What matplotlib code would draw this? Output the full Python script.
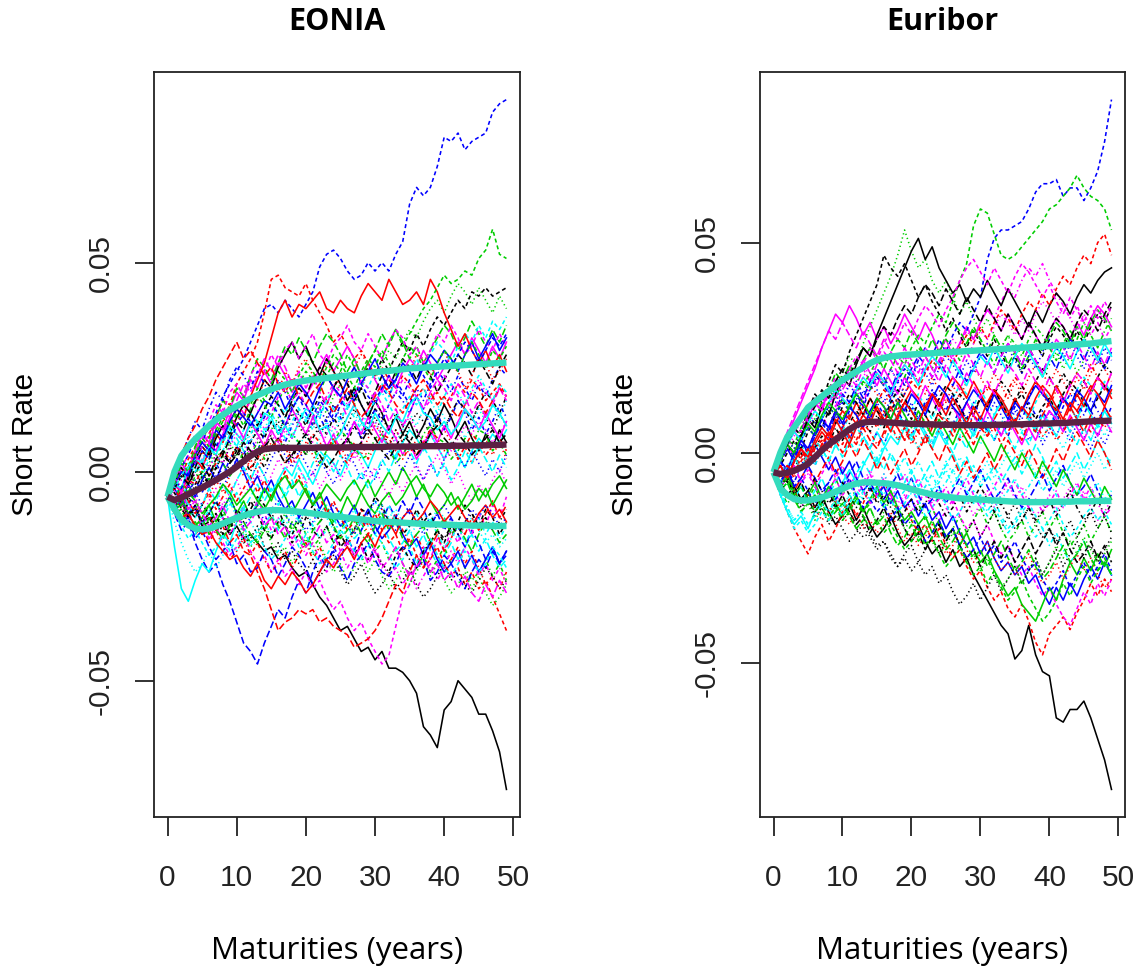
import numpy as np
import matplotlib
matplotlib.use("Agg")
import matplotlib.pyplot as plt

# ---------------------------------------------------------------- data
maturities = list(range(50))            # years 0..49
x_ticks = [0, 10, 20, 30, 40, 50]
y_ticks = [-0.05, 0.0, 0.05]
y_tick_labels = ["-0.05", "0.00", "0.05"]
panel_titles = ["EONIA", "Euribor"]
x_label = "Maturities (years)"
y_label = "Short Rate"

# simulated short-rate paths, units of 0.001
eonia_paths = [
    [-6,-8,-7,-10,-9,-12,-11,-14,-12,-15,-13,-16,-15,-17,-19,-18,-21,-20,-23,-25,-24,-27,-30,-32,-35,-38,-37,-40,-43,-42,-45,-43,-47,-47,-48,-50,-53,-61,-63,-66,-57,-55,-50,-52,-54,-58,-58,-62,-67,-76],
    [-6,-4,-1,3,6,10,9,13,17,16,21,24,27,31,38,46,47,44,43,42,45,41,38,35,31,33,30,27,29,26,23,25,22,20,23,21,18,20,17,19,16,18,21,19,22,20,17,19,21,18],
    [-6,-3,-6,-2,1,-2,2,5,3,7,4,8,11,9,6,10,13,11,15,12,9,13,16,14,18,21,19,16,20,24,22,26,29,27,31,34,32,36,39,41,38,42,45,43,40,44,41,38,42,39],
    [-6,-4,-8,-5,-2,-5,-1,2,-1,3,6,4,8,5,9,12,10,7,11,14,12,16,13,10,14,17,15,19,16,13,17,20,18,22,19,16,20,17,21,24,22,19,23,20,17,21,18,22,25,23],
    [-6,-10,-7,-11,-9,-13,-10,-7,-11,-8,-5,-9,-6,-3,-7,-4,-8,-5,-2,-6,-3,-7,-10,-8,-12,-9,-13,-16,-14,-11,-15,-12,-16,-19,-17,-14,-18,-15,-19,-22,-20,-17,-21,-18,-15,-19,-16,-20,-23,-21],
    [-6,-2,2,0,5,9,7,12,10,15,19,17,22,20,24,21,26,23,19,22,18,21,25,28,24,27,30,27,23,26,22,19,23,20,24,27,25,29,26,22,25,28,31,28,32,29,26,30,27,31],
    [-6,-9,-5,-8,-4,-1,-3,1,4,2,6,3,7,10,8,12,9,13,16,14,11,15,18,16,20,23,21,18,22,25,23,27,24,28,31,29,33,30,34,37,35,38,41,39,43,42,44,42,43,44],
    [-6,-8,-5,-9,-6,-3,-6,-2,-5,-1,2,-1,3,0,4,7,5,2,6,3,7,4,1,5,8,6,3,7,4,8,11,9,6,10,7,4,8,5,9,12,10,7,3,6,2,5,8,4,7,3],
    [-6,-9,-13,-10,-14,-11,-15,-12,-9,-13,-10,-14,-17,-15,-12,-16,-13,-10,-14,-11,-15,-18,-16,-13,-17,-14,-11,-15,-12,-16,-19,-17,-21,-18,-22,-25,-23,-20,-24,-21,-18,-22,-19,-23,-26,-24,-21,-25,-22,-26],
    [-6,-10,-14,-12,-17,-21,-24,-22,-27,-31,-36,-41,-43,-46,-41,-37,-33,-35,-30,-26,-29,-24,-20,-23,-18,-21,-16,-19,-14,-11,-15,-12,-8,-11,-7,-10,-6,-9,-13,-10,-14,-11,-15,-18,-14,-17,-21,-18,-22,-19],
    [-6,-18,-28,-31,-26,-22,-24,-19,-15,-17,-12,-9,-11,-7,-4,-6,-2,1,-1,3,0,-3,1,4,2,-1,3,6,4,1,5,8,6,3,7,10,8,5,9,6,3,7,4,1,5,8,6,9,7,10],
    [-6,-9,-7,-11,-14,-12,-16,-13,-17,-20,-18,-15,-19,-22,-20,-24,-21,-25,-23,-27,-24,-28,-26,-30,-33,-31,-35,-38,-36,-40,-43,-46,-44,-37,-30,-27,-22,-18,-21,-16,-19,-14,-17,-12,-15,-10,-13,-8,-11,-6],
    [-6,-3,-7,-4,0,-3,1,4,2,6,3,7,10,8,5,9,12,10,14,11,8,12,9,13,16,14,11,15,12,9,13,10,6,10,7,11,14,12,9,13,10,14,17,15,12,16,13,10,14,11],
    [-6,-10,-8,-12,-15,-13,-17,-14,-18,-21,-19,-16,-20,-17,-21,-24,-22,-19,-23,-20,-17,-21,-18,-22,-19,-15,-18,-14,-11,-15,-12,-9,-13,-10,-14,-17,-15,-19,-16,-20,-23,-21,-18,-22,-19,-23,-27,-25,-28,-24],
    [-6,-2,3,1,6,10,8,13,17,15,20,18,23,27,25,22,26,30,28,32,29,26,30,33,31,28,24,27,23,26,29,33,30,34,31,27,30,26,29,32,35,33,29,32,36,33,30,34,31,35],
    [-6,-4,-7,-3,-6,-2,1,-2,2,-1,3,0,-4,-1,-5,-2,-6,-9,-7,-11,-8,-5,-9,-6,-10,-13,-11,-8,-12,-9,-13,-16,-14,-11,-15,-18,-16,-20,-17,-21,-24,-22,-19,-23,-20,-24,-21,-18,-22,-19],
    [-6,-3,-7,-2,2,-1,3,7,5,9,6,10,14,12,9,13,16,14,18,15,12,16,13,17,20,18,15,19,22,20,24,21,18,22,25,23,27,24,28,31,29,26,30,33,31,35,32,36,34,37],
    [-6,-9,-12,-9,-6,-10,-7,-4,-8,-5,-2,-6,-3,0,-4,-1,3,0,4,1,-3,0,-4,-1,2,-2,1,5,2,-2,1,-3,-6,-2,-5,-1,2,-2,1,4,1,-3,0,-4,-7,-3,-6,-2,1,-3],
    [-6,-8,-4,-7,-3,0,-3,1,-2,2,5,3,0,4,1,5,8,6,3,7,4,8,11,9,13,10,7,11,8,12,15,13,10,14,11,7,10,6,9,13,10,14,17,15,12,16,19,17,14,18],
    [-6,-9,-7,-11,-8,-12,-10,-14,-13,-17,-15,-19,-20,-24,-28,-33,-38,-36,-35,-33,-34,-33,-36,-35,-37,-38,-39,-42,-41,-40,-38,-35,-31,-27,-29,-24,-20,-23,-18,-15,-19,-16,-12,-15,-11,-14,-10,-7,-11,-8],
    [-6,-9,-6,-10,-13,-11,-8,-12,-9,-6,-10,-7,-11,-8,-4,-7,-3,-6,-10,-7,-4,-8,-5,-9,-12,-10,-6,-9,-5,-2,-6,-3,0,-3,1,-2,-6,-3,-7,-10,-8,-5,-9,-6,-3,-7,-4,-8,-5,-2],
    [-6,-3,1,4,8,7,11,14,18,21,24,27,31,35,39,40,38,41,39,37,40,43,49,52,53,51,48,46,47,50,48,50,48,52,55,64,68,66,68,73,80,79,81,77,79,80,81,86,88,89],
    [-6,-2,-5,-1,3,0,4,1,5,8,6,10,7,11,14,12,9,13,10,6,9,5,8,12,9,13,16,14,11,15,12,8,11,7,10,14,11,15,18,16,13,9,12,8,11,15,12,16,13,17],
    [-6,-10,-8,-12,-9,-13,-16,-14,-11,-15,-12,-8,-11,-7,-10,-14,-11,-15,-18,-16,-20,-17,-21,-24,-22,-19,-23,-20,-17,-21,-18,-22,-25,-23,-27,-24,-28,-25,-22,-26,-23,-19,-22,-18,-21,-25,-22,-26,-23,-27],
    [-6,-3,0,-3,1,5,3,7,4,8,12,10,14,11,15,18,16,13,17,20,18,22,25,23,20,24,21,17,20,16,19,23,20,24,27,25,22,26,23,19,22,25,28,26,23,27,24,21,25,28],
    [-6,-3,-5,-1,3,1,5,9,7,12,15,13,18,22,26,32,38,41,37,40,39,41,43,39,38,41,39,38,42,45,43,41,46,43,40,41,43,40,46,43,38,34,30,33,29,26,29,25,28,24],
    [-6,-2,1,-1,4,7,5,9,12,10,14,11,15,18,16,13,17,20,17,21,24,22,19,23,26,24,28,25,22,26,29,27,31,34,30,33,36,39,41,44,47,45,46,48,47,51,53,58,52,51],
    [-6,-3,-6,-9,-5,-8,-4,-1,-4,0,3,1,-2,2,-1,3,6,4,1,5,2,-1,3,0,-3,1,4,2,-2,1,-2,2,5,3,0,4,1,-2,2,-1,3,6,4,1,5,2,-1,3,0,4],
    [-6,-10,-13,-11,-15,-12,-9,-13,-10,-7,-11,-8,-12,-15,-13,-10,-14,-11,-8,-12,-9,-13,-16,-14,-11,-15,-12,-9,-13,-10,-7,-11,-8,-12,-15,-13,-10,-14,-11,-15,-18,-16,-13,-17,-14,-11,-15,-12,-16,-13],
    [-6,-2,2,-1,4,8,6,11,15,13,17,21,19,23,27,24,28,25,21,24,20,23,19,16,20,17,13,16,12,15,19,16,12,15,11,14,18,15,19,22,20,17,21,18,14,17,13,16,20,17],
    [-6,-3,1,-2,3,6,4,8,11,9,13,16,14,18,22,20,25,28,31,27,30,26,23,27,24,21,17,20,16,13,17,14,10,13,9,12,8,11,15,12,16,13,9,12,8,5,9,6,10,7],
    [-6,-8,-4,-7,-10,-8,-5,-9,-6,-3,-7,-4,-1,-5,-2,-6,-3,0,-4,-1,-5,-8,-6,-10,-7,-11,-14,-12,-9,-13,-10,-14,-17,-15,-19,-16,-20,-23,-21,-18,-22,-25,-23,-27,-24,-28,-26,-30,-34,-38],
    [-6,-9,-7,-11,-8,-12,-15,-13,-10,-14,-11,-15,-18,-16,-13,-17,-20,-18,-22,-19,-16,-20,-17,-21,-24,-22,-26,-23,-20,-24,-21,-25,-28,-26,-23,-27,-24,-21,-25,-22,-26,-29,-27,-24,-28,-25,-29,-32,-30,-27],
    [-6,-1,4,8,12,10,15,19,17,22,25,23,20,24,21,18,22,19,15,18,14,11,15,12,16,13,9,12,8,11,15,12,16,19,17,14,18,15,11,14,10,13,17,14,10,13,9,12,16,13],
    [-6,-9,-5,-8,-11,-8,-4,-7,-3,-6,-2,1,-2,2,-1,-5,-2,-6,-3,1,-2,2,5,3,0,4,1,-3,0,-4,-1,3,0,4,7,5,2,6,3,-1,2,-2,1,5,2,6,3,0,4,1],
    [-6,-2,-5,0,4,2,7,5,9,13,11,8,12,9,6,10,7,11,15,12,9,13,10,6,9,5,8,12,9,13,10,7,11,8,4,7,3,6,10,7,11,8,12,15,13,10,14,11,8,12],
    [-6,-5,-9,-11,-8,-13,-12,-10,-15,-14,-9,-11,-7,-10,-14,-16,-12,-13,-17,-15,-11,-8,-12,-10,-13,-18,-16,-14,-9,-10,-6,-8,-12,-11,-15,-13,-9,-12,-10,-14,-17,-13,-12,-8,-10,-13,-9,-11,-15,-12],
    [-6,-4,0,1,5,4,9,13,12,15,11,16,18,17,22,20,19,24,21,25,27,23,22,26,24,20,21,25,28,26,23,24,19,22,25,24,28,27,23,26,29,25,24,20,23,27,26,22,24,27],
    [-6,-7,-3,-5,-1,0,-2,3,2,-1,1,5,4,7,3,6,8,5,9,7,4,6,2,5,7,10,8,6,3,4,8,9,6,2,4,7,5,9,11,8,7,3,5,8,6,10,9,5,7,4],
    [-6,-9,-12,-11,-16,-14,-18,-21,-19,-17,-22,-20,-24,-23,-19,-21,-25,-22,-18,-20,-23,-27,-24,-21,-19,-23,-26,-22,-20,-17,-21,-24,-25,-22,-18,-19,-23,-21,-26,-24,-20,-22,-25,-28,-24,-21,-23,-19,-22,-20],
    [-6,-3,-4,1,3,2,6,4,8,11,9,7,12,10,14,13,9,11,8,12,15,14,10,11,7,9,13,16,12,10,14,11,9,13,12,16,18,14,13,10,12,9,11,15,13,10,12,16,14,11],
    [-6,-2,3,5,9,8,12,16,14,19,21,18,23,26,24,28,25,29,31,27,30,33,28,26,30,32,35,31,29,33,30,27,31,34,32,28,30,26,29,33,31,35,32,28,30,34,31,29,33,30],
    [-6,-8,-7,-11,-9,-12,-10,-13,-15,-12,-14,-17,-16,-13,-18,-20,-17,-21,-19,-22,-24,-21,-25,-23,-20,-24,-27,-25,-22,-26,-29,-27,-24,-28,-26,-23,-27,-30,-28,-25,-22,-26,-24,-27,-29,-26,-23,-25,-28,-26],
    [-6,-4,-7,-2,-3,1,-1,2,5,3,6,4,1,3,7,5,8,6,2,4,6,9,7,5,8,4,2,5,7,3,6,9,8,5,3,6,4,7,10,8,5,7,3,6,9,7,4,6,8,5],
    [-6,-10,-9,-13,-12,-15,-11,-14,-16,-13,-10,-12,-15,-17,-14,-11,-13,-16,-12,-15,-18,-14,-12,-10,-13,-16,-14,-11,-15,-17,-13,-10,-14,-12,-16,-18,-15,-13,-17,-14,-11,-15,-13,-16,-19,-15,-12,-14,-17,-15],
    [-6,-3,0,-1,4,7,5,10,8,12,15,13,11,14,17,16,19,15,18,21,19,16,20,23,20,18,22,25,21,24,27,23,20,22,26,24,21,25,28,26,29,27,24,28,31,27,30,33,29,32],
    [-6,-9,-13,-16,-14,-17,-20,-18,-15,-19,-16,-13,-17,-15,-18,-21,-19,-16,-14,-18,-15,-19,-22,-20,-17,-14,-16,-19,-21,-18,-15,-17,-20,-23,-21,-18,-22,-19,-16,-20,-23,-25,-22,-19,-21,-24,-22,-18,-20,-23],
    [-6,-5,-2,-4,0,3,1,4,2,6,9,7,4,8,11,9,6,10,8,12,10,7,5,9,11,8,6,3,7,10,12,9,6,8,11,13,10,7,9,6,3,5,8,11,9,12,10,7,9,12],
    [-6,-8,-5,-9,-11,-8,-10,-7,-11,-13,-10,-12,-9,-6,-8,-11,-9,-13,-15,-12,-10,-14,-16,-13,-17,-15,-18,-20,-17,-21,-19,-22,-24,-20,-18,-21,-23,-19,-17,-14,-16,-13,-15,-12,-10,-13,-11,-14,-12,-9],
    [-6,-1,4,8,11,15,18,22,25,28,31,27,29,26,23,25,21,19,22,18,16,19,21,17,14,17,20,16,13,15,18,21,19,16,14,17,20,22,19,16,18,15,13,16,19,17,14,17,20,18],
    [-6,-9,-8,-5,-7,-10,-8,-6,-3,-5,-8,-6,-4,-7,-9,-6,-3,-1,-4,-2,-5,-8,-6,-3,-5,-7,-4,-2,-5,-8,-10,-7,-5,-8,-6,-3,-1,-4,-6,-3,-5,-8,-6,-9,-7,-4,-6,-3,-1,-4],
    [-6,-2,-4,0,2,5,3,6,9,7,11,14,12,10,13,16,14,11,15,18,16,13,17,15,12,16,19,17,21,18,16,20,23,21,18,22,25,23,20,24,27,25,28,31,29,26,29,32,30,33],
    [-6,-12,-17,-21,-24,-22,-19,-23,-20,-17,-19,-15,-18,-14,-12,-15,-11,-13,-10,-12,-15,-13,-9,-11,-14,-12,-16,-14,-11,-13,-10,-8,-11,-9,-12,-15,-13,-10,-12,-9,-11,-14,-16,-13,-11,-14,-17,-15,-18,-16],
    [-6,-3,1,4,2,6,9,12,10,13,16,14,17,15,12,14,18,20,17,19,16,13,15,18,21,19,16,18,22,20,17,14,16,19,22,20,18,15,17,20,23,21,18,16,19,22,19,17,20,18],
    [-6,-4,-1,-3,0,2,-1,3,5,2,4,7,5,3,6,8,5,2,4,7,9,6,4,1,3,6,8,5,7,10,8,5,3,6,9,7,4,6,9,11,8,6,9,7,4,6,8,10,7,9],
    [-6,-8,-11,-10,-13,-15,-14,-17,-19,-21,-20,-23,-25,-22,-26,-28,-25,-27,-24,-26,-29,-27,-24,-21,-23,-20,-18,-21,-17,-15,-18,-14,-12,-15,-11,-9,-12,-10,-7,-9,-12,-10,-8,-11,-13,-10,-8,-11,-9,-12],
    [-6,-3,2,0,4,8,6,10,13,11,15,18,16,20,17,21,24,22,19,23,26,24,21,25,28,26,23,20,24,27,25,29,26,23,27,30,28,25,22,26,29,27,24,28,31,28,25,29,27,30],
    [-6,-9,-7,-10,-8,-12,-10,-7,-9,-6,-10,-13,-11,-8,-12,-9,-7,-10,-13,-11,-14,-12,-9,-11,-8,-10,-13,-15,-12,-10,-7,-9,-12,-14,-11,-9,-12,-15,-13,-10,-8,-11,-14,-12,-9,-11,-8,-10,-13,-11],
    [-6,-4,-1,2,0,3,6,4,7,10,8,5,9,12,10,14,11,8,12,15,13,10,14,17,15,12,16,13,10,14,17,19,16,13,15,18,16,20,17,14,18,21,19,16,20,23,20,17,21,19],
    [-6,-8,-5,-9,-7,-10,-13,-11,-8,-12,-10,-14,-12,-9,-13,-11,-15,-13,-16,-14,-18,-16,-13,-17,-15,-19,-17,-20,-18,-22,-19,-23,-21,-18,-22,-25,-23,-20,-24,-22,-26,-24,-28,-25,-29,-31,-27,-30,-26,-29],
]

euribor_paths = [
    [-5,-7,-4,-8,-11,-9,-13,-10,-14,-17,-15,-12,-16,-13,-17,-20,-18,-15,-19,-22,-20,-17,-21,-24,-22,-26,-23,-27,-25,-29,-32,-35,-38,-41,-43,-49,-47,-41,-48,-52,-53,-63,-64,-61,-61,-59,-63,-68,-73,-80],
    [-5,-10,-14,-18,-21,-24,-20,-17,-21,-18,-14,-11,-15,-12,-8,-11,-7,-10,-14,-12,-16,-19,-17,-21,-18,-22,-25,-23,-27,-30,-28,-32,-35,-33,-37,-39,-36,-40,-45,-48,-43,-41,-39,-42,-38,-35,-31,-34,-30,-33],
    [-5,-1,3,1,5,9,7,12,16,14,19,23,21,26,30,34,38,42,47,53,48,44,46,41,38,41,37,33,36,32,29,32,28,25,28,24,21,25,22,18,21,24,20,23,19,22,26,23,20,24],
    [-5,-8,-4,-7,-3,0,-3,1,4,2,6,3,7,4,1,5,2,6,9,7,4,8,5,2,6,3,7,10,8,5,9,6,3,7,4,8,11,9,6,10,7,4,8,5,9,12,10,7,11,8],
    [-5,-9,-7,-11,-8,-12,-9,-6,-10,-7,-4,-8,-5,-2,-5,-1,-4,0,-3,-7,-4,-8,-5,-2,-6,-3,0,-4,-1,-5,-8,-6,-3,-7,-4,-1,-5,-2,2,-1,-5,-2,-6,-3,0,-4,-1,3,0,-3],
    [-5,-1,4,8,12,16,20,25,29,33,31,35,32,28,31,27,30,26,29,33,30,27,31,28,24,27,23,26,30,27,31,34,32,29,33,30,27,31,28,25,29,32,30,27,31,28,32,35,33,30],
    [-5,-1,3,7,5,10,14,12,17,21,19,24,28,32,36,40,47,44,42,45,41,37,40,36,33,29,32,28,25,29,26,23,27,24,20,23,19,22,26,23,27,30,28,25,29,26,30,33,31,35],
    [-5,-2,-5,-1,3,1,5,2,6,10,8,12,9,13,16,14,11,15,12,16,19,17,14,18,15,12,16,13,17,20,18,15,19,16,13,17,14,18,21,19,16,20,17,14,18,15,19,22,20,17],
    [-5,-9,-12,-10,-14,-11,-8,-12,-9,-6,-10,-7,-11,-14,-12,-9,-13,-10,-14,-17,-15,-12,-16,-13,-17,-20,-18,-15,-19,-16,-13,-17,-14,-18,-21,-19,-16,-20,-17,-14,-18,-15,-19,-22,-20,-17,-21,-18,-15,-19],
    [-5,-2,1,-2,3,0,4,8,6,10,14,12,16,13,17,20,18,15,19,16,20,23,21,18,22,19,16,20,17,21,24,22,19,23,26,24,21,25,22,19,23,20,24,27,25,22,26,23,20,24],
    [-5,-10,-14,-17,-15,-18,-14,-11,-8,-11,-7,-4,-7,-3,0,-3,1,4,2,6,3,7,4,1,5,2,6,9,7,4,8,5,9,12,10,7,11,8,5,9,6,10,13,11,8,12,9,6,10,7],
    [-5,-2,-6,-3,-7,-4,-8,-5,-2,-6,-3,-7,-10,-8,-5,-9,-6,-10,-13,-11,-8,-12,-9,-13,-16,-14,-11,-15,-18,-16,-20,-17,-21,-24,-22,-26,-29,-27,-31,-34,-32,-36,-39,-41,-37,-33,-36,-31,-34,-30],
    [-5,-8,-6,-9,-12,-10,-13,-11,-14,-12,-16,-14,-18,-20,-19,-22,-21,-24,-27,-25,-28,-26,-23,-20,-24,-21,-18,-22,-19,-16,-20,-17,-14,-18,-15,-12,-16,-13,-17,-20,-18,-21,-19,-16,-20,-17,-14,-18,-15,-19],
    [-5,-7,-3,-6,-2,1,-2,2,5,3,7,4,8,11,9,6,10,7,3,6,2,5,9,6,10,13,11,8,12,9,13,16,14,11,15,18,16,13,17,14,11,15,12,16,19,17,21,18,15,19],
    [-5,-1,3,6,4,9,13,11,15,19,17,21,18,22,25,23,20,24,27,25,29,26,23,27,24,28,31,29,26,30,27,24,28,25,21,24,20,23,27,24,28,31,29,26,30,27,31,34,32,29],
    [-5,-3,-6,-2,1,-2,2,-1,-4,-1,-5,-2,-6,-9,-7,-10,-8,-12,-9,-13,-11,-15,-12,-16,-14,-18,-15,-19,-22,-20,-24,-21,-25,-28,-26,-29,-27,-31,-29,-33,-36,-32,-35,-31,-34,-30,-27,-30,-26,-29],
    [-5,-2,-6,-2,2,-1,3,6,4,8,5,9,12,10,7,11,8,12,15,13,10,14,11,8,12,9,13,16,14,11,15,12,9,13,10,7,11,8,12,15,13,10,14,11,15,18,16,13,17,14],
    [-5,-8,-11,-9,-13,-10,-7,-11,-8,-12,-9,-6,-10,-7,-4,-8,-5,-9,-12,-10,-14,-11,-8,-12,-9,-13,-16,-14,-11,-15,-12,-9,-13,-10,-7,-11,-8,-12,-15,-13,-10,-14,-11,-8,-12,-9,-13,-16,-14,-11],
    [-5,-3,-7,-4,0,-3,1,4,2,6,3,7,10,8,5,9,6,10,13,11,8,12,9,6,10,7,11,14,12,9,13,10,14,17,15,12,16,13,17,20,18,15,19,16,13,17,14,18,21,19],
    [-5,-8,-5,-9,-6,-3,-7,-4,-1,-5,-2,2,-1,3,0,-4,-1,-5,-2,1,-3,0,4,1,-2,2,-1,-5,-2,-6,-3,0,-4,-1,3,0,-3,1,-2,-6,-3,1,-2,2,5,2,-1,3,0,-4],
    [-5,-8,-5,-9,-12,-10,-7,-11,-8,-12,-15,-13,-10,-14,-11,-8,-12,-9,-13,-16,-14,-17,-15,-19,-16,-20,-18,-22,-19,-23,-26,-24,-28,-31,-34,-32,-36,-38,-40,-36,-32,-35,-30,-26,-29,-25,-28,-24,-27,-23],
    [-5,-2,1,-2,3,6,4,8,5,9,12,10,14,11,15,18,16,13,17,20,18,22,25,23,27,24,28,31,29,33,37,46,51,53,53,54,55,58,62,64,64,65,61,63,63,60,63,67,74,84],
    [-5,-9,-13,-16,-14,-17,-15,-12,-15,-11,-14,-10,-7,-10,-6,-9,-5,-8,-4,-7,-10,-8,-5,-9,-6,-2,-5,-1,-4,-7,-5,-2,-6,-3,0,-3,1,-2,-5,-3,-7,-4,-8,-5,-2,-6,-3,0,-4,-1],
    [-5,-2,2,-1,3,7,5,9,6,10,13,11,15,12,16,19,17,14,18,21,19,16,20,23,21,25,22,26,29,27,31,34,32,36,39,37,41,44,42,45,41,38,35,32,35,31,28,31,27,30],
    [-5,-8,-6,-10,-7,-11,-14,-12,-9,-13,-10,-14,-17,-15,-19,-16,-13,-17,-14,-18,-21,-19,-23,-20,-17,-21,-18,-22,-25,-23,-27,-24,-21,-25,-22,-26,-23,-20,-24,-21,-18,-22,-19,-23,-26,-24,-21,-25,-22,-26],
    [-5,-3,-6,-2,1,-2,2,5,3,7,10,8,12,9,13,10,7,11,8,12,15,13,10,14,11,15,18,16,13,17,14,11,15,12,9,13,10,14,17,15,12,16,13,10,14,11,15,18,16,13],
    [-5,-2,2,-1,3,6,4,8,11,9,13,10,14,17,15,19,16,20,23,21,25,28,26,30,33,31,36,41,45,54,58,57,52,47,46,47,49,51,53,55,58,59,61,63,66,63,61,60,58,53],
    [-5,-1,3,1,5,9,7,11,14,12,16,19,17,14,18,15,12,16,13,9,12,8,11,15,12,9,13,10,6,9,5,8,12,9,6,10,7,3,6,2,5,9,6,3,7,4,1,5,2,6],
    [-5,-8,-5,-1,-4,0,-3,1,-2,2,5,3,0,4,1,-2,2,-1,-4,-1,-5,-2,-6,-9,-7,-4,-8,-5,-9,-12,-10,-14,-11,-15,-18,-16,-13,-17,-20,-18,-22,-19,-23,-26,-24,-21,-25,-28,-26,-29],
    [-5,-1,2,6,4,8,12,10,14,11,15,18,16,20,17,21,24,22,19,23,20,17,21,18,22,25,23,20,24,21,18,22,19,23,26,24,21,25,22,19,23,27,25,22,26,23,20,24,21,25],
    [-5,-2,2,0,4,8,6,11,9,14,18,16,21,25,23,28,32,36,40,44,48,51,46,49,44,41,38,40,36,39,37,41,38,35,39,36,33,30,34,31,35,38,36,33,37,40,38,41,43,44],
    [-5,-8,-4,-1,-4,0,3,1,5,2,6,9,7,11,8,12,15,13,10,14,17,15,19,22,20,24,21,25,28,26,30,27,31,34,32,29,33,36,34,38,35,39,42,40,44,47,45,50,52,47],
    [-5,-9,-7,-11,-14,-12,-16,-13,-10,-14,-11,-15,-18,-16,-13,-17,-14,-11,-15,-18,-16,-20,-17,-21,-24,-22,-19,-23,-26,-24,-28,-25,-29,-32,-30,-27,-31,-28,-25,-29,-26,-22,-25,-21,-24,-20,-23,-26,-24,-21],
    [-5,-2,-5,-1,2,0,4,7,5,9,6,10,13,11,8,12,9,13,10,7,11,8,12,15,13,10,14,11,8,12,9,5,8,4,7,11,8,12,9,6,10,7,11,14,12,9,13,10,7,11],
    [-5,-7,-4,-1,-4,0,3,1,-2,2,-1,3,6,4,1,5,2,6,9,7,4,8,5,2,6,3,0,4,1,5,8,6,3,7,4,1,5,2,6,9,7,4,8,5,2,6,3,7,10,8],
    [-5,-2,2,5,3,8,12,10,15,13,17,20,18,22,19,16,20,17,14,18,15,12,16,13,10,14,11,8,12,9,6,10,7,4,8,5,2,6,3,7,10,8,5,9,6,3,7,4,8,5],
    [-5,-3,0,3,1,5,8,6,10,7,11,14,12,9,13,10,8,12,15,13,10,7,11,9,13,16,14,11,8,10,13,11,15,12,9,12,14,11,8,11,13,10,14,17,15,12,10,13,16,14],
    [-5,-8,-11,-9,-12,-10,-13,-16,-14,-11,-15,-17,-14,-18,-16,-19,-17,-14,-18,-21,-19,-22,-20,-17,-21,-24,-22,-19,-23,-26,-24,-21,-25,-28,-26,-29,-27,-24,-28,-31,-29,-26,-30,-27,-24,-28,-25,-29,-32,-30],
    [-5,-1,3,2,6,10,8,12,15,13,17,20,18,16,19,22,20,24,21,18,22,25,23,20,24,27,25,22,26,29,27,24,21,25,28,26,23,27,30,28,25,22,26,29,27,31,28,25,29,32],
    [-5,-7,-4,-8,-6,-3,-6,-9,-7,-4,-8,-5,-2,-6,-9,-7,-11,-8,-5,-9,-6,-10,-13,-11,-8,-12,-9,-6,-10,-7,-4,-8,-11,-9,-6,-10,-13,-11,-8,-5,-9,-6,-3,-7,-10,-8,-5,-9,-12,-10],
    [-5,-2,2,5,3,7,10,8,12,15,13,11,15,18,16,19,17,14,18,21,19,16,20,23,21,18,22,19,16,20,23,21,25,22,19,23,26,24,21,18,22,25,23,20,24,27,25,22,26,23],
    [-5,-1,3,7,5,9,13,11,15,18,16,20,23,21,25,22,26,29,27,31,28,32,35,33,30,34,37,41,44,46,43,40,44,41,38,42,45,43,40,37,40,36,33,37,34,31,35,32,36,33],
    [-5,-8,-6,-10,-13,-11,-15,-13,-17,-15,-18,-21,-19,-17,-20,-23,-21,-25,-27,-24,-22,-26,-29,-27,-31,-29,-33,-36,-34,-31,-35,-32,-29,-33,-30,-27,-31,-28,-25,-29,-26,-23,-27,-24,-21,-25,-22,-26,-23,-20],
    [-5,-3,-6,-2,0,-3,1,3,0,4,2,6,3,7,5,2,4,8,6,3,5,1,4,7,5,8,6,3,5,9,7,4,6,2,5,8,6,9,7,4,6,3,5,8,10,7,5,8,6,9],
    [-5,-9,-7,-11,-14,-12,-10,-13,-16,-14,-12,-15,-18,-16,-13,-17,-15,-19,-22,-20,-17,-21,-19,-16,-20,-23,-21,-18,-22,-25,-23,-27,-24,-21,-25,-28,-26,-23,-27,-30,-28,-25,-22,-26,-24,-21,-25,-28,-26,-29],
    [-5,-2,-4,0,3,1,5,8,6,10,7,11,9,6,10,13,11,8,12,10,14,12,9,13,16,14,11,9,12,15,13,10,14,11,8,12,10,13,16,14,12,9,13,11,15,13,10,14,12,16],
    [-5,-10,-14,-18,-16,-19,-17,-14,-16,-13,-15,-12,-9,-11,-8,-10,-13,-11,-14,-12,-9,-11,-15,-13,-10,-12,-16,-14,-11,-9,-12,-15,-13,-16,-19,-17,-14,-12,-15,-18,-16,-13,-17,-20,-18,-15,-13,-16,-14,-17],
    [-5,-2,1,4,8,6,10,13,11,15,13,17,14,18,21,19,16,20,17,21,24,22,25,23,20,24,27,25,22,26,29,27,30,33,31,28,32,29,33,36,34,31,35,32,29,33,30,34,31,35],
    [-5,-7,-10,-8,-11,-9,-6,-9,-12,-10,-7,-10,-13,-11,-8,-12,-10,-13,-16,-14,-11,-14,-12,-9,-12,-15,-13,-10,-14,-11,-8,-11,-14,-12,-15,-18,-16,-13,-16,-14,-11,-15,-12,-9,-13,-16,-14,-11,-15,-12],
    [-5,-6,-3,-5,-1,1,-2,2,5,3,0,4,2,6,3,1,5,8,6,3,7,5,2,6,9,7,4,8,5,2,6,4,8,11,9,6,3,7,5,9,12,10,7,11,8,5,9,7,11,8],
    [-5,-2,2,0,4,7,5,9,12,10,8,11,14,12,9,13,11,8,12,9,6,10,7,4,8,5,2,6,3,0,4,1,-2,2,-1,-4,0,-3,-6,-2,-5,-8,-4,-7,-10,-6,-9,-12,-8,-11],
    [-5,-7,-4,-8,-6,-9,-12,-10,-7,-11,-9,-6,-10,-13,-11,-14,-12,-16,-13,-17,-15,-18,-21,-19,-16,-20,-18,-22,-25,-23,-20,-24,-22,-26,-24,-21,-25,-28,-26,-30,-33,-31,-28,-32,-29,-26,-30,-27,-24,-28],
    [-5,-7,-3,-1,-4,0,2,-1,3,1,5,2,6,4,1,5,8,6,3,7,4,1,5,3,6,9,7,4,8,5,2,6,3,7,10,8,5,9,6,3,7,4,1,5,8,6,3,7,4,8],
    [-5,-8,-6,-3,-7,-5,-8,-11,-9,-6,-10,-8,-5,-9,-12,-10,-7,-11,-8,-5,-9,-6,-10,-13,-11,-8,-12,-9,-6,-10,-13,-11,-8,-5,-9,-7,-10,-13,-11,-14,-12,-9,-13,-10,-7,-11,-8,-12,-15,-13],
    [-5,-1,2,6,4,8,11,15,13,17,20,18,22,25,23,27,30,28,32,35,33,37,40,38,35,39,36,33,37,34,31,35,32,29,33,30,27,31,28,25,29,32,30,27,31,34,32,29,33,36],
    [-5,-3,-6,-2,1,-1,3,6,4,8,5,2,6,9,7,11,8,5,9,12,10,7,11,14,12,9,13,10,7,11,8,12,15,13,10,7,11,9,13,16,14,11,8,12,10,13,16,14,11,15],
    [-5,-8,-6,-10,-8,-11,-14,-12,-15,-13,-16,-14,-11,-15,-18,-16,-19,-17,-20,-23,-21,-18,-22,-20,-24,-27,-25,-22,-26,-29,-27,-31,-28,-32,-35,-33,-30,-34,-37,-40,-38,-35,-31,-34,-30,-27,-31,-28,-25,-29],
    [-5,-2,1,-1,3,6,4,8,11,9,13,16,14,12,15,18,16,20,17,14,18,21,19,16,20,23,21,18,22,19,23,26,24,21,25,22,19,23,20,24,27,25,22,26,23,20,24,21,25,22],
    [-5,-9,-13,-16,-14,-17,-15,-12,-14,-11,-13,-10,-12,-9,-11,-8,-10,-7,-11,-9,-6,-10,-8,-5,-9,-7,-4,-8,-6,-3,-7,-5,-8,-11,-9,-6,-10,-8,-5,-9,-7,-10,-13,-11,-8,-12,-10,-7,-11,-9],
    [-5,0,5,9,13,17,21,25,29,27,31,28,25,29,26,23,27,24,21,25,22,19,23,20,17,21,18,15,19,16,13,17,14,18,21,19,16,20,17,14,18,15,12,16,19,17,14,18,15,19],
]

# cross-sectional mean and 5% / 95% quantiles, units of 0.0001
eonia_mean = [-60,-68,-62,-54,-46,-38,-29,-20,-10,0,12,25,38,48,54,56,57,57,57,57,57,57,58,58,58,58,58,59,59,59,59,59,60,60,60,60,60,61,61,61,61,62,62,62,63,63,63,64,64,65]
eonia_q95 = [-60,0,38,60,78,94,110,124,136,147,157,166,175,183,190,197,203,208,212,215,218,220,222,224,226,228,230,232,234,236,238,240,241,243,245,247,248,249,250,251,252,253,254,255,256,257,258,259,260,261]
eonia_q05 = [-60,-90,-114,-128,-136,-138,-136,-131,-124,-117,-110,-105,-100,-96,-93,-92,-92,-93,-94,-96,-98,-100,-102,-104,-106,-108,-110,-112,-114,-116,-118,-119,-120,-121,-122,-123,-124,-125,-126,-126,-127,-127,-128,-128,-129,-129,-129,-130,-130,-130]

euribor_mean = [-46,-50,-47,-42,-35,-26,-10,6,20,32,44,56,66,72,74,74,73,72,71,70,69,69,68,68,67,67,67,66,66,66,66,66,67,67,67,68,68,69,69,70,70,71,71,72,73,74,75,76,76,77]
euribor_q95 = [-46,1,38,61,84,108,121,134,147,160,173,183,193,203,213,221,226,229,231,233,234,235,236,237,238,239,240,241,242,243,244,245,246,247,248,249,250,251,252,253,254,255,256,257,258,259,260,262,264,266]
euribor_q05 = [-46,-85,-100,-110,-113,-113,-110,-106,-100,-92,-85,-78,-73,-70,-70,-71,-72,-74,-77,-81,-86,-91,-95,-99,-102,-104,-106,-108,-109,-110,-111,-112,-113,-114,-115,-116,-116,-117,-117,-117,-117,-116,-116,-116,-115,-115,-115,-114,-114,-114]

# ---------------------------------------------------------------- style
W, H = 1138, 969
PT = 72.0 / 100.0                      # points per pixel at dpi 100
plt.rcParams["lines.scale_dashes"] = False

path_colors = ["black", "#FF0000", "#00CD00", "#0000FF", "#00FFFF", "#FF00FF"]
# dash patterns in pixels: solid, dashed, dotted, dot-dash, long-dash
path_dashes = [None, (4, 3), (1.3, 3), (1.3, 3, 4, 3), (7, 3)]
band_color = "#34DBBC"
mean_color = "#5C2143"

tick_font = dict(family=["Liberation Sans", "DejaVu Sans"], size=21.5)
label_font = ["Open Sans", "DejaVu Sans"]

fig = plt.figure(figsize=(W / 100, H / 100), dpi=100)

boxes = [
    (154, 72, 520, 817),
    (760, 72, 1125, 817),
]
ylabel_x = [33, 633]


def padded(lo, hi):
    span = hi - lo
    return lo - 0.04 * span, hi + 0.04 * span


def draw_panel(ax, paths, mean, q05, q95):
    t = np.array(maturities, dtype=float)
    for i, p in enumerate(paths):
        pattern = path_dashes[i % 5]
        ls = "-" if pattern is None else (0, tuple(v * PT for v in pattern))
        ax.plot(t, np.array(p) / 1000.0, color=path_colors[i % 6],
                lw=1.15, linestyle=ls)
    for band in (q95, q05):
        ax.plot(t, np.array(band) / 1e4, color=band_color, lw=4.6,
                solid_capstyle="butt")
    ax.plot(t, np.array(mean) / 1e4, color=mean_color, lw=4.6,
            solid_capstyle="butt")

    vals = np.array(paths) / 1000.0
    ax.set_xlim(*padded(t.min(), t.max()))
    ax.set_ylim(*padded(vals.min(), vals.max()))

    ax.set_xticks(x_ticks)
    ax.set_xticklabels([str(v) for v in x_ticks], fontdict=tick_font)
    ax.set_yticks(y_ticks)
    ax.set_yticklabels(y_tick_labels, fontdict=tick_font)
    for lbl in ax.get_yticklabels():
        lbl.set_rotation(90)
        lbl.set_va("center")
        lbl.set_ha("right")
    ax.tick_params(axis="both", direction="out", length=19 * PT,
                   width=1.3, colors="#222222")
    ax.tick_params(axis="x", pad=20)
    ax.tick_params(axis="y", pad=14.5)
    for s in ax.spines.values():
        s.set_linewidth(1.3)
        s.set_color("#222222")


panels = [
    (eonia_paths, eonia_mean, eonia_q05, eonia_q95),
    (euribor_paths, euribor_mean, euribor_q05, euribor_q95),
]

for k, (x0, y0, x1, y1) in enumerate(boxes):
    ax = fig.add_axes([x0 / W, 1 - y1 / H, (x1 - x0) / W, (y1 - y0) / H])
    draw_panel(ax, *panels[k])
    cx = (x0 + x1) / 2 / W
    fig.text(cx, 1 - 30 / H, panel_titles[k], family=label_font,
             weight="bold", size=22, ha="center", va="baseline")
    fig.text(cx, 1 - 959 / H, x_label, family=label_font, size=22.5,
             ha="center", va="baseline")
    fig.text(ylabel_x[k] / W, 1 - (y0 + y1) / 2 / H, y_label,
             family=["Liberation Sans", "DejaVu Sans"], size=21.5,
             rotation=90, rotation_mode="anchor", ha="center",
             va="baseline")

fig.savefig("out.png", dpi=100)
